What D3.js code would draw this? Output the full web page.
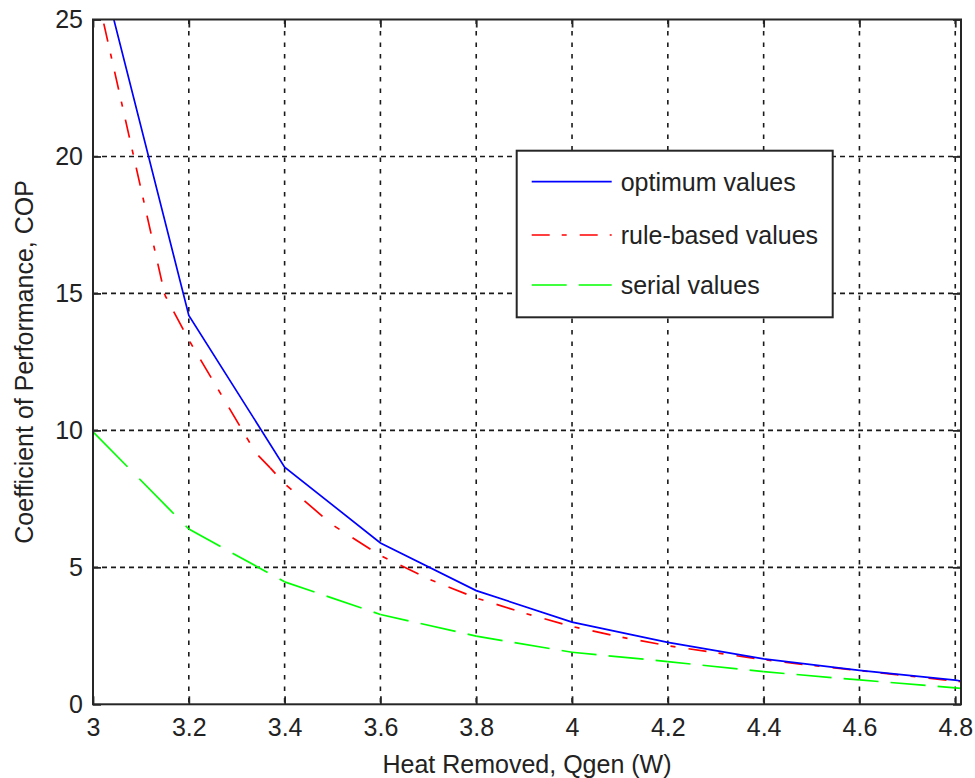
<!DOCTYPE html>
<html>
<head>
<meta charset="utf-8">
<script src="https://cdn.jsdelivr.net/npm/d3@7"></script>
<style>
  body { margin: 0; background: #fff; }
  text { font-family: "Liberation Sans", Arial, sans-serif; fill: #222; }
</style>
</head>
<body>
<script>
// tick values
var xTicks = [3, 3.2, 3.4, 3.6, 3.8, 4, 4.2, 4.4, 4.6, 4.8];
var yTicks = [0, 5, 10, 15, 20, 25];

// optimum values (blue, solid)
var xOptimum = [3.0, 3.2, 3.4, 3.6, 3.8, 4.0, 4.2, 4.4, 4.6, 4.8, 4.812];
var optimum  = [28.0, 14.2, 8.66, 5.89, 4.15, 3.0, 2.26, 1.66, 1.24, 0.88, 0.85];

// rule-based values (red, dash-dot)
var xRule = [3.0, 3.15, 3.2, 3.34, 3.37, 3.4, 3.5, 3.6, 3.7, 3.8, 3.9, 4.0, 4.1, 4.2, 4.3, 4.4, 4.5, 4.6, 4.7, 4.8, 4.812];
var rule  = [26.6, 14.94, 13.3, 9.17, 8.63, 8.05, 6.55, 5.43, 4.58, 3.88, 3.33, 2.84, 2.46, 2.14, 1.88, 1.63, 1.42, 1.23, 1.04, 0.85, 0.83];

// serial values (green, dashed)
var xSerial = [3.0, 3.2, 3.4, 3.6, 3.8, 4.0, 4.2, 4.4, 4.6, 4.8, 4.812];
var serial  = [9.95, 6.4, 4.47, 3.28, 2.49, 1.9, 1.56, 1.19, 0.89, 0.6, 0.58];

var seriesNames = ["optimum values", "rule-based values", "serial values"];

var svg = d3.select("body").append("svg")
            .attr("width", 975)
            .attr("height", 778);

var margin = {top: 19.5, right: 14, bottom: 73.7, left: 93};
var width = 975 - margin.left - margin.right;
var height = 778 - margin.top - margin.bottom;

var g = svg.append("g")
           .attr("transform", "translate(" + margin.left + "," + margin.top + ")");

var xScale = d3.scaleLinear().domain([3, 4.812]).range([0, width]);
var yScale = d3.scaleLinear().domain([0, 25]).range([height, 0]);

var axisColor = "#262626";
var gridColor = "#1a1a1a";

// grid (dotted)
g.selectAll(".vgrid")
 .data(xTicks.slice(1))
 .enter().append("line")
 .attr("x1", d => xScale(d)).attr("x2", d => xScale(d))
 .attr("y1", 0).attr("y2", height)
 .attr("stroke", gridColor).attr("stroke-width", 1.6)
 .attr("stroke-dasharray", "4.5,7");

g.selectAll(".hgrid")
 .data(yTicks.slice(1, -1))
 .enter().append("line")
 .attr("x1", 0).attr("x2", width)
 .attr("y1", d => yScale(d)).attr("y2", d => yScale(d))
 .attr("stroke", gridColor).attr("stroke-width", 1.6)
 .attr("stroke-dasharray", "5,4");

// clip to the plot area
svg.append("defs").append("clipPath").attr("id", "plotclip")
   .append("rect").attr("width", width).attr("height", height);

var lines = g.append("g").attr("clip-path", "url(#plotclip)");

// MATLAB measures dash lengths along the larger of |dx|,|dy|,
// so rescale the dash pattern on every segment
function styledLine(parent, xs, ys, color, pattern) {
  var pts = xs.map((x, i) => [xScale(x), yScale(ys[i])]);
  if (!pattern) {
    parent.append("path")
      .attr("d", d3.line()(pts))
      .attr("fill", "none")
      .attr("stroke", color)
      .attr("stroke-width", 1.7);
    return;
  }
  var period = d3.sum(pattern), cum = 0;
  for (var i = 0; i < pts.length - 1; i++) {
    var dx = pts[i + 1][0] - pts[i][0], dy = pts[i + 1][1] - pts[i][1];
    var L = Math.hypot(dx, dy), C = Math.max(Math.abs(dx), Math.abs(dy));
    if (C === 0) continue;
    var k = L / C;
    parent.append("line")
      .attr("x1", pts[i][0]).attr("y1", pts[i][1])
      .attr("x2", pts[i + 1][0]).attr("y2", pts[i + 1][1])
      .attr("stroke", color)
      .attr("stroke-width", 1.7)
      .attr("stroke-dasharray", pattern.map(p => p * k).join(","))
      .attr("stroke-dashoffset", (cum % period) * k);
    cum += C;
  }
}

var redPattern = [18, 12, 5, 13];
var greenPattern = [35, 12];

styledLine(lines, xSerial, serial, "#00ff00", greenPattern);
styledLine(lines, xRule, rule, "#ff0000", redPattern);
styledLine(lines, xOptimum, optimum, "#0000ff", null);

// axes with inward ticks
var fontSize = 25;

var xAxis = g.append("g")
 .attr("transform", "translate(0," + height + ")")
 .call(d3.axisBottom(xScale).tickValues(xTicks).tickFormat(d => String(d))
        .tickSizeInner(-8).tickSizeOuter(0).tickPadding(14));

var yAxis = g.append("g")
 .call(d3.axisLeft(yScale).tickValues(yTicks).tickFormat(d => String(d))
        .tickSizeInner(-8).tickSizeOuter(0).tickPadding(10));

var topAxis = g.append("g")
 .call(d3.axisTop(xScale).tickValues(xTicks).tickFormat("")
        .tickSizeInner(-8).tickSizeOuter(0));

var rightAxis = g.append("g")
 .attr("transform", "translate(" + width + ",0)")
 .call(d3.axisRight(yScale).tickValues(yTicks).tickFormat("")
        .tickSizeInner(-8).tickSizeOuter(0));

[xAxis, yAxis, topAxis, rightAxis].forEach(function(a) {
  a.select(".domain").remove();
  a.selectAll("line").attr("stroke", axisColor).attr("stroke-width", 1.8);
  a.selectAll("text")
   .style("font-family", "'Liberation Sans', Arial, sans-serif")
   .style("font-size", fontSize + "px")
   .attr("fill", "#222");
});

// box
g.append("rect")
 .attr("width", width).attr("height", height)
 .attr("fill", "none")
 .attr("stroke", axisColor)
 .attr("stroke-width", 2);

// axis labels
svg.append("text")
   .attr("x", margin.left + width / 2)
   .attr("y", 773)
   .attr("text-anchor", "middle")
   .style("font-size", fontSize + "px")
   .text("Heat Removed, Qgen (W)");

svg.append("text")
   .attr("transform", "translate(33," + (margin.top + height / 2) + ") rotate(-90)")
   .attr("text-anchor", "middle")
   .style("font-size", fontSize + "px")
   .text("Coefficient of Performance, COP");

// legend
var legend = svg.append("g").attr("transform", "translate(516.7,150.7)");
legend.append("rect")
  .attr("width", 316).attr("height", 166.6)
  .attr("fill", "#fff")
  .attr("stroke", axisColor)
  .attr("stroke-width", 2);

var legendColors = ["#0000ff", "#ff0000", "#00ff00"];
var legendDash = [null, redPattern, greenPattern];
var rowY = [31, 84.3, 134.3];

seriesNames.forEach(function(name, i) {
  var line = legend.append("line")
    .attr("x1", 15).attr("x2", 95)
    .attr("y1", rowY[i]).attr("y2", rowY[i])
    .attr("stroke", legendColors[i])
    .attr("stroke-width", 1.7);
  if (legendDash[i]) line.attr("stroke-dasharray", legendDash[i].join(","));
  legend.append("text")
    .attr("x", 104)
    .attr("y", rowY[i] + 9)
    .style("font-size", fontSize + "px")
    .text(name);
});
</script>
</body>
</html>
